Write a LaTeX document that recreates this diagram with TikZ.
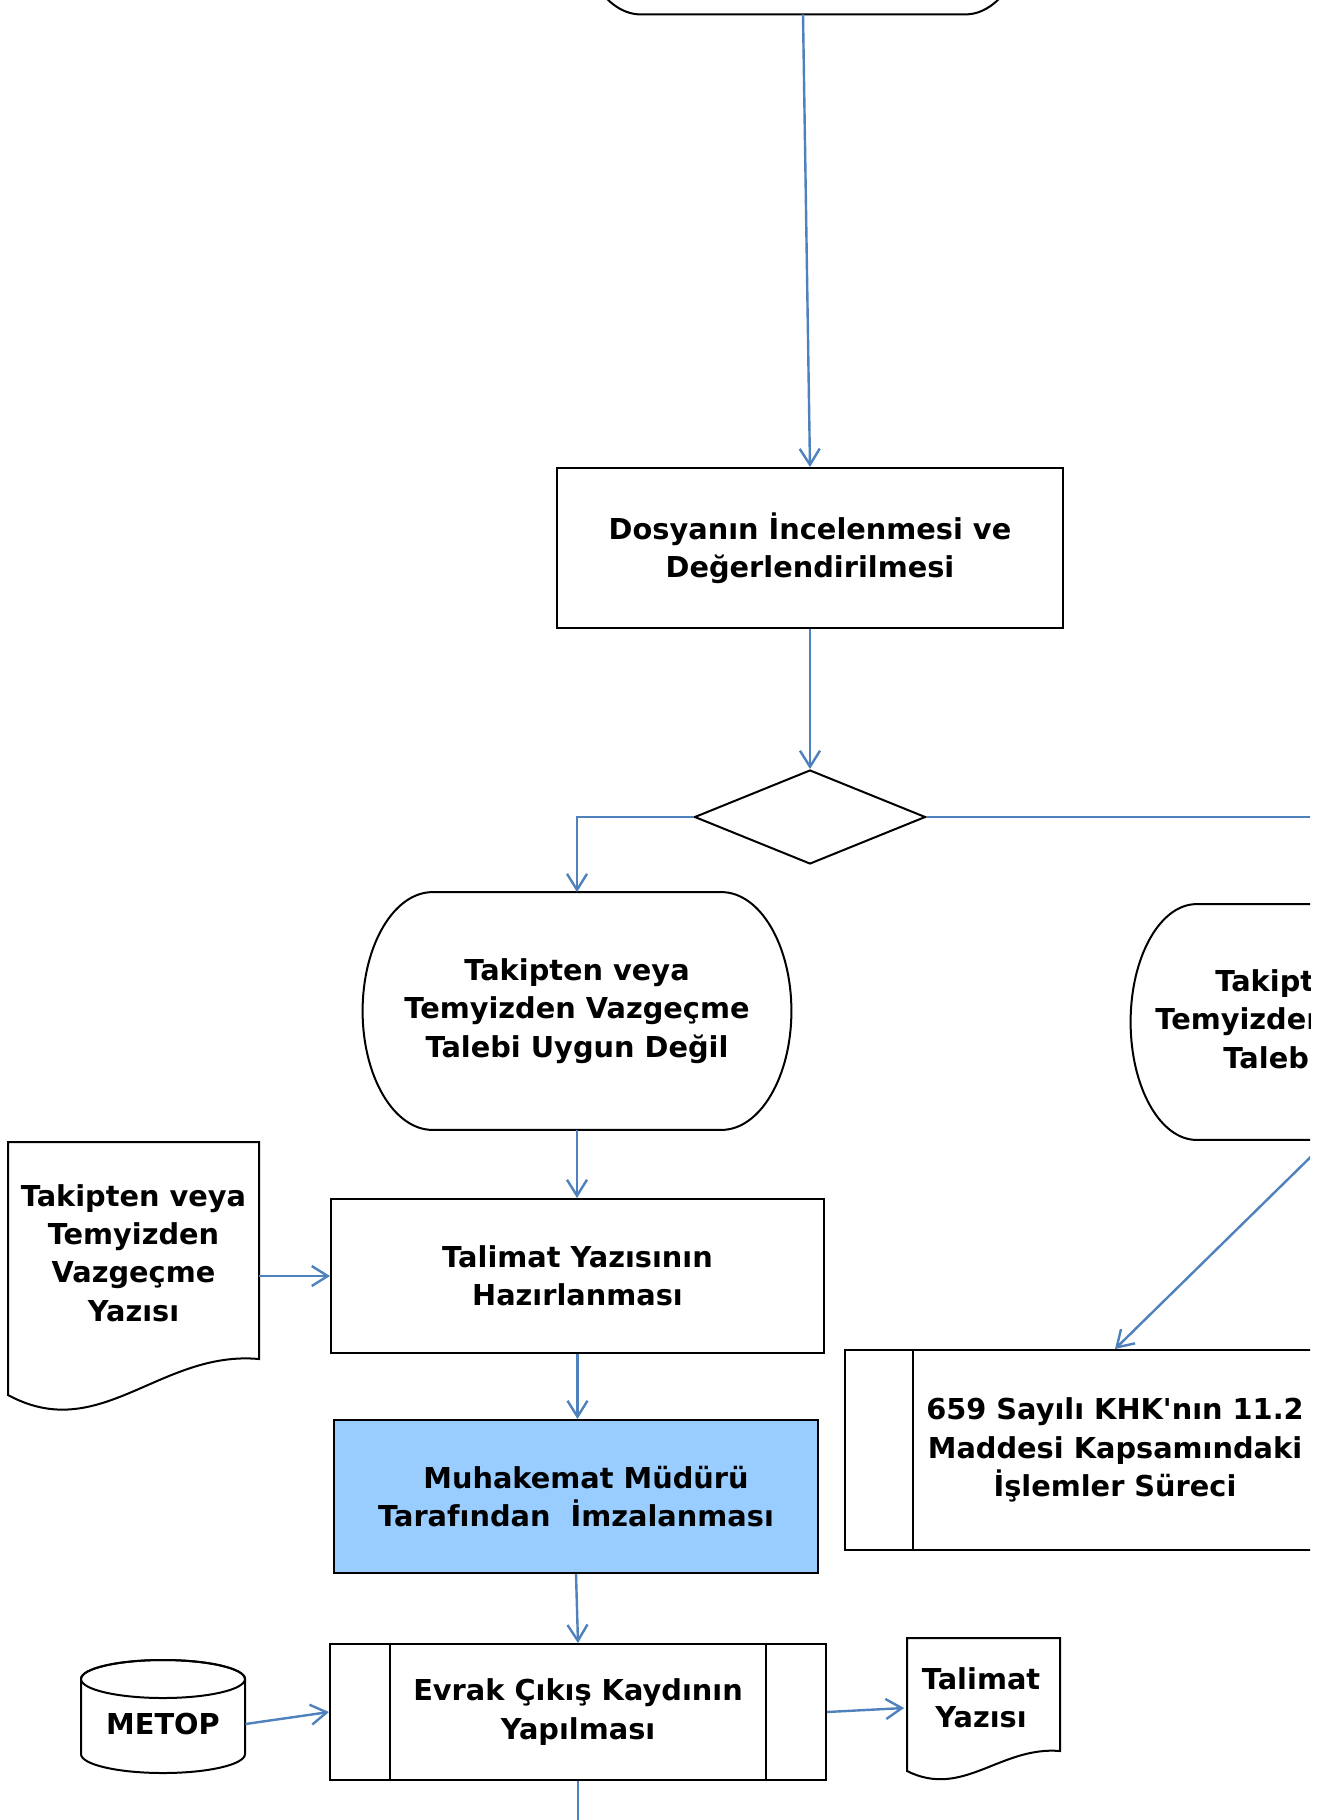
\documentclass[tikz,border=0pt]{standalone}
\usepackage{fontspec}
\setmainfont{DejaVu Sans}
\usepackage{xcolor}
\usetikzlibrary{shapes.geometric,arrows.meta,calc,positioning}
\definecolor{flowblue}{RGB}{79,129,189}
\definecolor{signblue}{RGB}{153,204,255}

% stadium outline round a node: #1 node, #2 x radius of the caps
\newcommand{\termoutline}[2]{%
  \draw[shapeline] let \p1=(#1.north), \p2=(#1.south) in
    ([xshift=#2]#1.north west) -- ([xshift=-#2]#1.north east)
    arc[start angle=90, end angle=-90, x radius=#2, y radius={0.5*(\y1-\y2)}]
    -- ([xshift=#2]#1.south west)
    arc[start angle=270, end angle=90, x radius=#2, y radius={0.5*(\y1-\y2)}] -- cycle;}

\begin{document}
\begin{tikzpicture}[x=0.5pt,y=-0.5pt]

	\tikzset{
	label font/.style={align=center, font=\bfseries\fontsize{14.4}{19.2}\selectfont, inner sep=0pt},
	shapeline/.style={draw=black, line width=1pt},
	box/.style={label font, shapeline, rectangle},
	term/.style={label font, rectangle},
	decision/.style={shapeline, diamond, minimum width=115.5pt, minimum height=47pt, inner sep=0pt},
	flow/.style={draw=flowblue, line width=1.2pt, -{Straight Barb[length=8pt,width=10pt]}}
}

\useasboundingbox (0,0) rectangle (1327,1820);
\fill[white] (0,0) rectangle (1327,1820);
\clip (0,0) rectangle (1310,1820);

% main column
\node[term, minimum width=234pt, minimum height=134pt] (start) at (803,-120) {};
\termoutline{start}{36pt}
\node[box, minimum width=253pt, minimum height=80pt] (dosya) at (810,548) {Dosyanın İncelenmesi ve\\Değerlendirilmesi};
\node[decision] (karar) at (810,817) {};
\node[term, minimum width=214pt, minimum height=118.5pt] (uygundegil) at (577,1011) {Takipten veya\\Temyizden Vazgeçme\\Talebi Uygun Değil};
\termoutline{uygundegil}{35pt}
\node[term, minimum width=197pt, minimum height=117.5pt] (uygun) at (1328,1022) {Takipten veya\\Temyizden Vazgeçme\\Talebi Uygun};
\termoutline{uygun}{33pt}
\node[box, minimum width=246.5pt, minimum height=77pt] (hazirlik) at (577.5,1276) {Talimat Yazısının\\Hazırlanması};
\node[box, fill=signblue, minimum width=242pt, minimum height=76.5pt] (imza) at (576,1496.5) {\hspace*{10pt}Muhakemat Müdürü\\Tarafından\ \ İmzalanması};
\node[box, minimum width=248pt, minimum height=68pt] (evrak) at (578,1712) {Evrak Çıkış Kaydının\\Yapılması};
\draw[shapeline] ([xshift=30.5pt]evrak.north west) -- ([xshift=30.5pt]evrak.south west);
\draw[shapeline] ([xshift=-30.5pt]evrak.north east) -- ([xshift=-30.5pt]evrak.south east);
\node[box, minimum width=270pt, minimum height=100pt] (khk) at (1115,1450) {659 Sayılı KHK\textquotesingle nın 11.2\\Maddesi Kapsamındaki\\İşlemler Süreci};
\draw[shapeline] ([xshift=34.5pt]khk.north west) -- ([xshift=34.5pt]khk.south west);
\draw[shapeline] ([xshift=-34.5pt]khk.north east) -- ([xshift=-34.5pt]khk.south east);
\coordinate (sonraki) at (578,1860);

% documents and store
\draw[shapeline] (8,1142) -- (259,1142) -- (259,1359) .. controls (160,1350) and (100,1445) .. (8,1395) -- cycle;
\node[term, minimum width=125.5pt] (vazgecme) at (133.5,1253) {Takipten veya\\Temyizden\\Vazgeçme\\Yazısı};
\draw[shapeline] (907,1638) -- (1060,1638) -- (1060,1751) .. controls (1000,1746) and (963,1799) .. (907,1771) -- cycle;
\node[term, minimum width=76.5pt] (talimat) at (981,1698) {Talimat\\Yazısı};
\draw[shapeline] (81,1679) -- (81,1754) arc[start angle=180, end angle=360, x radius=41pt, y radius=9.5pt]
  -- (245,1679) arc[start angle=0, end angle=180, x radius=41pt, y radius=9.5pt];
\draw[shapeline] (163,1679) ellipse[x radius=41pt, y radius=9.5pt];
\node[term, minimum width=82pt] (metop) at (163,1724) {METOP};

% connectors
\draw[flow] (start.south) -- (dosya.north);
\draw[flow] (dosya.south) -- (karar.north);
\draw[flow] (karar.west) -| (uygundegil.north);
\draw[flow] (karar.east) -| (uygun.north);
\draw[flow] (uygundegil.south) -- (uygundegil.south |- hazirlik.north);
\draw[flow] (uygun.south) -- (khk.north);
\draw[flow] (vazgecme.east |- hazirlik.west) -- (hazirlik.west);
\draw[flow] (hazirlik.south) -- (hazirlik.south |- imza.north);
\draw[flow] (imza.south) -- (evrak.north);
\draw[flow] (metop.east) -- (evrak.west);
\draw[flow] (evrak.east) -- ([yshift=-5pt]talimat.west);
\draw[flow] (evrak.south) -- (sonraki);

\end{tikzpicture}
\end{document}
